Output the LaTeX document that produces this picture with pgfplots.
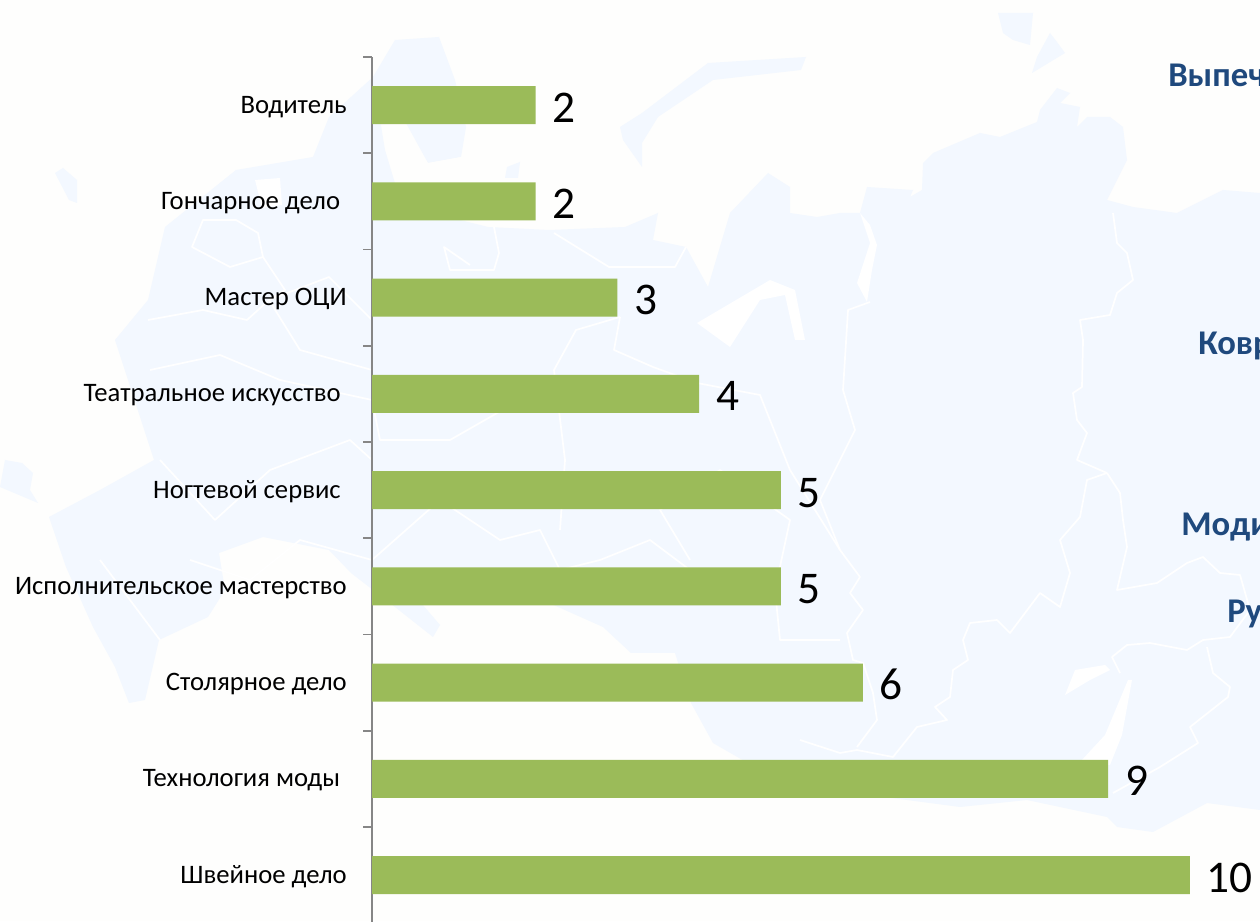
\documentclass[border=0pt]{standalone}
\usepackage{fontspec}
\setmainfont{Carlito}
\usepackage{pgfplots}
\pgfplotsset{compat=1.18}
\definecolor{bg}{HTML}{FEFEFD}
\definecolor{mapc}{HTML}{F3F8FF}
\definecolor{barc}{HTML}{9BBB59}
\definecolor{axc}{HTML}{868686}
\definecolor{headc}{HTML}{1F497D}
\begin{document}
\begin{tikzpicture}
\path[use as bounding box,clip] (0,0) rectangle (945pt,690.75pt);
\fill[bg] (0,0) rectangle (945pt,690.75pt);
\begin{scope}[x=0.75pt,y=-0.75pt,yshift=690.75pt]
% faint map background (px coordinates of the reference)
\fill[mapc] (395,40) -- (439,37) -- (455,80) -- (466,127) -- (461,157) -- (428,163) -- (406,123) -- (373,125) -- (373,77) -- cycle;
\fill[mapc] (373,77) -- (329,117) -- (313,157) -- (236,170) -- (165,227) -- (148,300) -- (115,340) -- (154,460) -- (100,490) -- (49,517) -- (66,567) -- (93,627) -- (115,667) -- (129,703) -- (145,700) -- (159,640) -- (208,617) -- (225,590) -- (219,553) -- (263,537) -- (329,550) -- (351,573) -- (373,590) -- (395,607) -- (433,637) -- (440,625) -- (410,590) -- (520,590) -- (603,627) -- (631,653) -- (675,653) -- (691,703) -- (713,743) -- (760,770) -- (830,790) -- (907,800) -- (960,807) -- (1027,800) -- (1107,817) -- (1117,827) -- (1153,832) -- (1207,803) -- (1260,810) -- (1260,193) -- (1223,190) -- (1177,213) -- (1133,207) -- (1107,200) -- (1127,160) -- (1123,127) -- (1110,117) -- (1087,117) -- (1077,127) -- (1080,107) -- (1060,103) -- (1070,93) -- (1057,88) -- (1040,110) -- (1037,122) -- (1000,137) -- (980,133) -- (933,153) -- (923,163) -- (922,190) -- (910,197) -- (913,190) -- (867,187) -- (860,213) -- (840,213) -- (817,217) -- (790,213) -- (790,187) -- (768,173) -- (730,213) -- (708,287) -- (686,247) -- (653,240) -- (658,213) -- (625,227) -- (549,230) -- (488,227) -- (440,215) -- (400,200) -- (385,150) -- cycle;
% Novaya Zemlya and the islands
\fill[mapc] (620,127) -- (642,113) -- (708,63) -- (806,57) -- (801,70) -- (713,80) -- (658,117) -- (642,143) -- (642,167) -- (623,140) -- cycle;
\fill[mapc] (998,13) -- (1033,13) -- (1030,45) -- (1013,40) -- (1003,33) -- cycle;
\fill[mapc] (1050,33) -- (1057,42) -- (1065,53) -- (1032,73) -- (1037,57) -- cycle;
\fill[mapc] (55,173) -- (63,168) -- (77,180) -- (77,203) -- (69,200) -- cycle;
\fill[mapc] (5,460) -- (22,463) -- (33,473) -- (30,490) -- (38,503) -- (0,487) -- cycle;
\fill[mapc] (507,167) -- (520,162) -- (518,178) -- (505,178) -- cycle;
% white gulfs and lakes
\fill[white] (870,243) -- (857,283) -- (867,302) -- (872,270) -- (877,245) -- (870,225) -- (860,213) -- cycle;
\fill[white] (697,323) -- (730,347) -- (760,300) -- (785,295) -- (795,340) -- (805,340) -- (795,290) -- (770,280) -- cycle;
\fill[white] (1128,680) -- (1132,680) -- (1122,735) -- (1110,765) -- (1080,762) -- (1105,735) -- cycle;
\fill[white] (1065,695) -- (1075,670) -- (1105,665) -- (1110,670) -- (1090,680) -- cycle;
\fill[bg] (385,135) -- (405,130) -- (428,163) -- (461,157) -- (480,200) -- (400,200) -- cycle;
\fill[white] (255,180) -- (280,178) -- (282,205) -- (262,208) -- cycle;
% region borders
\begin{scope}[white,line width=1.3pt,line join=round]
\draw (1107,473) -- (1087,480) -- (1080,517) -- (1060,540) -- (1070,573) -- (1060,607) -- (1040,593) -- (1010,633) -- (997,620) -- (970,623) -- (963,640) -- (968,660) -- (953,670) -- (950,697) -- (935,707) -- (947,720) -- (917,727) -- (893,757) -- (857,750) -- (840,753) -- (800,740);
\draw (1107,473) -- (1120,493) -- (1123,520) -- (1127,547) -- (1117,590) -- (1157,583) -- (1187,563) -- (1203,557) -- (1220,573) -- (1240,575) -- (1250,610) -- (1230,637) -- (1203,640) -- (1187,650) -- (1150,643) -- (1127,645) -- (1112,657) -- (1120,673);
\draw (1207,647) -- (1213,673) -- (1230,687) -- (1228,697) -- (1190,727) -- (1198,743) -- (1160,767) -- (1113,793);
\draw (1113,213) -- (1117,243) -- (1127,253) -- (1133,280) -- (1117,293) -- (1110,315) -- (1080,320) -- (1083,340) -- (1082,387) -- (1073,393) -- (1077,420) -- (1087,433) -- (1077,460) -- (1107,473);
\draw (870,302) -- (848,310) -- (843,390) -- (855,430) -- (820,500) -- (840,550) -- (860,577) -- (850,593) -- (863,610) -- (847,633) -- (853,660) -- (863,663) -- (873,693) -- (877,720) -- (857,747);
\draw (494,227) -- (499,253) -- (494,270) -- (450,270) -- (444,247) -- (470,265);
\draw (554,233) -- (609,267) -- (675,267) -- (686,247);
\draw (620,317) -- (576,330) -- (554,370) -- (565,460) -- (560,530);
\draw (620,317) -- (614,350) -- (653,367) -- (697,383) -- (760,395) -- (790,470) -- (840,550);
\draw (203,220) -- (192,247) -- (230,267) -- (263,257) -- (258,233) -- (236,220) -- cycle;
\draw (148,320) -- (203,310) -- (247,320) -- (269,300) -- (329,277) -- (372,320);
\draw (263,257) -- (285,290) -- (269,300) -- (300,350) -- (372,370);
\draw (150,370) -- (220,355) -- (280,380) -- (372,400) -- (380,440) -- (450,440) -- (520,400) -- (565,380);
\draw (160,460) -- (215,520) -- (270,470) -- (350,440) -- (372,460);
\draw (190,560) -- (250,580) -- (300,540) -- (372,560) -- (440,500) -- (500,540) -- (540,530) -- (560,570) -- (600,560) -- (650,540) -- (690,570);
\draw (100,560) -- (130,600) -- (160,640);
\draw (690,560) -- (660,510) -- (720,470) -- (790,520) -- (775,590) -- (780,640) -- (840,640);
\end{scope}
% cut-off headings at the right edge
\node[anchor=base west,inner sep=0pt,text=headc,font=\fontsize{26}{30}\selectfont\bfseries] at (1168,87) {Выпеч};
\node[anchor=base west,inner sep=0pt,text=headc,font=\fontsize{26}{30}\selectfont\bfseries] at (1198,355) {Ковр};
\node[anchor=base west,inner sep=0pt,text=headc,font=\fontsize{26}{30}\selectfont\bfseries] at (1181,536) {Моди};
\node[anchor=base west,inner sep=0pt,text=headc,font=\fontsize{26}{30}\selectfont\bfseries] at (1227,623) {Ру};
\end{scope}
\begin{axis}[
  at={(279pt,-1.69pt)},anchor=south west,
  scale only axis,width=666pt,height=649.7pt,
  xmin=0,xmax=10.856,ymin=-0.5,ymax=8.5,y dir=reverse,
  axis y line*=left,axis x line=none,
  axis line style={axc,line width=1.2pt,-},
  xbar,bar width=28.5pt,
  ytick={0,1,2,3,4,5,6,7,8},
  yticklabels={Водитель,Гончарное дело\hspace*{5pt},Мастер ОЦИ,Театральное искусство\hspace*{4.5pt},Ногтевой сервис\hspace*{4.5pt},Исполнительское мастерство,Столярное дело,Технология моды\hspace*{5pt},Швейное дело},
  minor ytick={-0.5,0.5,1.5,2.5,3.5,4.5,5.5,6.5,7.5,8.5},
  major tick length=0pt,minor tick length=6.5pt,
  tick align=outside,
  minor tick style={axc,line width=1.2pt},
  y tick label style={anchor=base east,inner sep=0pt,xshift=-18.75pt,yshift=-6pt,font=\fontsize{20}{22}\selectfont},
  /pgf/number format/assume math mode=true,
  nodes near coords,
  every node near coord/.append style={anchor=base west,inner sep=0pt,xshift=12.5pt,yshift=-12.75pt,font=\fontsize{34}{38}\selectfont,text=black},
  clip=false,
]
\addplot[fill=barc,draw=none] coordinates {(2,0) (2,1) (3,2) (4,3) (5,4) (5,5) (6,6) (9,7) (10,8)};
\end{axis}
\end{tikzpicture}
\end{document}
